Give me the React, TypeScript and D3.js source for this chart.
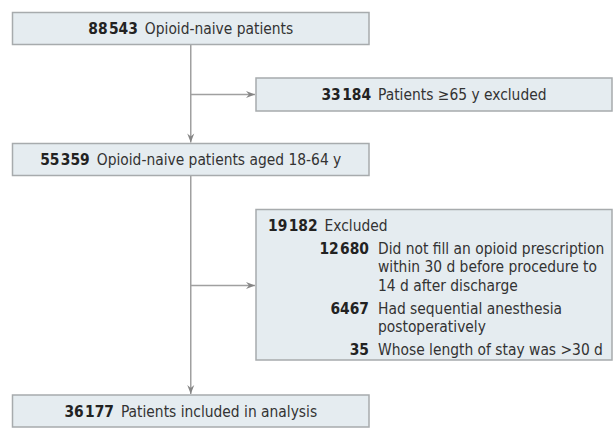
import * as d3 from 'd3';

// main flow boxes (top to bottom)
const mainCounts = ['88\u200A543', '55\u200A359', '36\u200A177'];
const mainLabels = ['Opioid-naive patients', 'Opioid-naive patients aged 18-64 y', 'Patients included in analysis'];

// exclusion boxes
const excl1Count = '33\u200A184';
const excl1Label = 'Patients \u226565 y excluded';

const excl2Count = '19\u200A182';
const excl2Label = 'Excluded';
const excl2SubCounts = ['12\u200A680', '6467', '35'];
const excl2SubLines = [
  ['Did not fill an opioid prescription', 'within 30 d before procedure to', '14 d after discharge'],
  ['Had sequential anesthesia', 'postoperatively'],
  ['Whose length of stay was >30 d'],
];

const W = 613;
const H = 444;
const FONT = '"Liberation Sans Narrow", "DejaVu Sans Condensed", "Open Sans", sans-serif';
const FS = 15.4;
const FILL = '#e5ecf0';
const STROKE = '#a7abad';
const LINE = '#a0a0a0';
const ARROW = '#858585';

// layout
const mainX0 = 12.5;
const mainX1 = 369;
const spineX = (mainX0 + mainX1) / 2;
const mainY = [12.5, 143.5, 395];
const mainH = 32;
const sideX0 = 256;
const sideX1 = 612;
const side1Y = [78, 111];
const side2Y = [209.5, 360];

const arrowHead = (x: number, y: number, dir: 'down' | 'right') => {
  const l = 9;
  const w = 3.5;
  const pts: [number, number][] =
    dir === 'down'
      ? [[x, y], [x - w, y - l], [x, y - l + 3], [x + w, y - l]]
      : [[x, y], [x - l, y - w], [x - l + 3, y], [x - l, y + w]];
  return d3.line()(pts) + 'Z';
};

export default function App() {
  const line = d3.line();
  const branch1Y = (side1Y[0] + side1Y[1]) / 2;
  const branch2Y = 285.5;

  // rows of the second exclusion box
  const headerY = 230.5;
  const subRowH = 18.5;
  const itemGap = 23;
  const rows: { num?: string; text: string; y: number }[] = [];
  let y = headerY;
  excl2SubLines.forEach((lines, i) => {
    y += itemGap;
    lines.forEach((t, j) => {
      rows.push({ num: j === 0 ? excl2SubCounts[i] : undefined, text: t, y: y + j * subRowH });
    });
    y += (lines.length - 1) * subRowH;
  });

  return (
    <svg width={W} height={H} style={{ position: 'absolute', left: 0, top: 0, background: '#fff' }} fontFamily={FONT}>
      {/* connectors */}
      <path d={line([[spineX, mainY[0] + mainH], [spineX, mainY[1] - 1]])!} stroke={LINE} strokeWidth={1.5} fill="none" />
      <path d={line([[spineX, mainY[1] + mainH], [spineX, mainY[2] - 1]])!} stroke={LINE} strokeWidth={1.5} fill="none" />
      <path d={line([[spineX, branch1Y], [sideX0 - 1, branch1Y]])!} stroke={LINE} strokeWidth={1.5} fill="none" />
      <path d={line([[spineX, branch2Y], [sideX0 - 1, branch2Y]])!} stroke={LINE} strokeWidth={1.5} fill="none" />
      <path d={arrowHead(spineX, mainY[1] - 1, 'down')} fill={ARROW} />
      <path d={arrowHead(spineX, mainY[2] - 1, 'down')} fill={ARROW} />
      <path d={arrowHead(sideX0 - 1, branch1Y, 'right')} fill={ARROW} />
      <path d={arrowHead(sideX0 - 1, branch2Y, 'right')} fill={ARROW} />

      {/* main boxes */}
      {mainY.map((by, i) => (
        <g key={i}>
          <rect x={mainX0} y={by} width={mainX1 - mainX0} height={mainH} fill={FILL} stroke={STROKE} strokeWidth={1.5} />
          <text x={spineX} y={by + mainH / 2 + 5.5} textAnchor="middle" fontSize={FS} fill="#333">
            <tspan fontWeight="bold" fill="#222">{mainCounts[i]}</tspan>
            <tspan dx={7}>{mainLabels[i]}</tspan>
          </text>
        </g>
      ))}

      {/* exclusion box 1 */}
      <rect x={sideX0} y={side1Y[0]} width={sideX1 - sideX0} height={side1Y[1] - side1Y[0]} fill={FILL} stroke={STROKE} strokeWidth={1.5} />
      <text x={(sideX0 + sideX1) / 2} y={branch1Y + 5.5} textAnchor="middle" fontSize={FS} fill="#333">
        <tspan fontWeight="bold" fill="#222">{excl1Count}</tspan>
        <tspan dx={7}>{excl1Label}</tspan>
      </text>

      {/* exclusion box 2 */}
      <rect x={sideX0} y={side2Y[0]} width={sideX1 - sideX0} height={side2Y[1] - side2Y[0]} fill={FILL} stroke={STROKE} strokeWidth={1.5} />
      <text x={268} y={headerY} fontSize={FS} fill="#333">
        <tspan fontWeight="bold" fill="#222">{excl2Count}</tspan>
        <tspan dx={7}>{excl2Label}</tspan>
      </text>
      {rows.map((r, i) => (
        <g key={i}>
          {r.num && (
            <text x={369} y={r.y} textAnchor="end" fontSize={FS} fontWeight="bold" fill="#222">
              {r.num}
            </text>
          )}
          <text x={378} y={r.y} fontSize={FS} fill="#333">
            {r.text}
          </text>
        </g>
      ))}
    </svg>
  );
}
